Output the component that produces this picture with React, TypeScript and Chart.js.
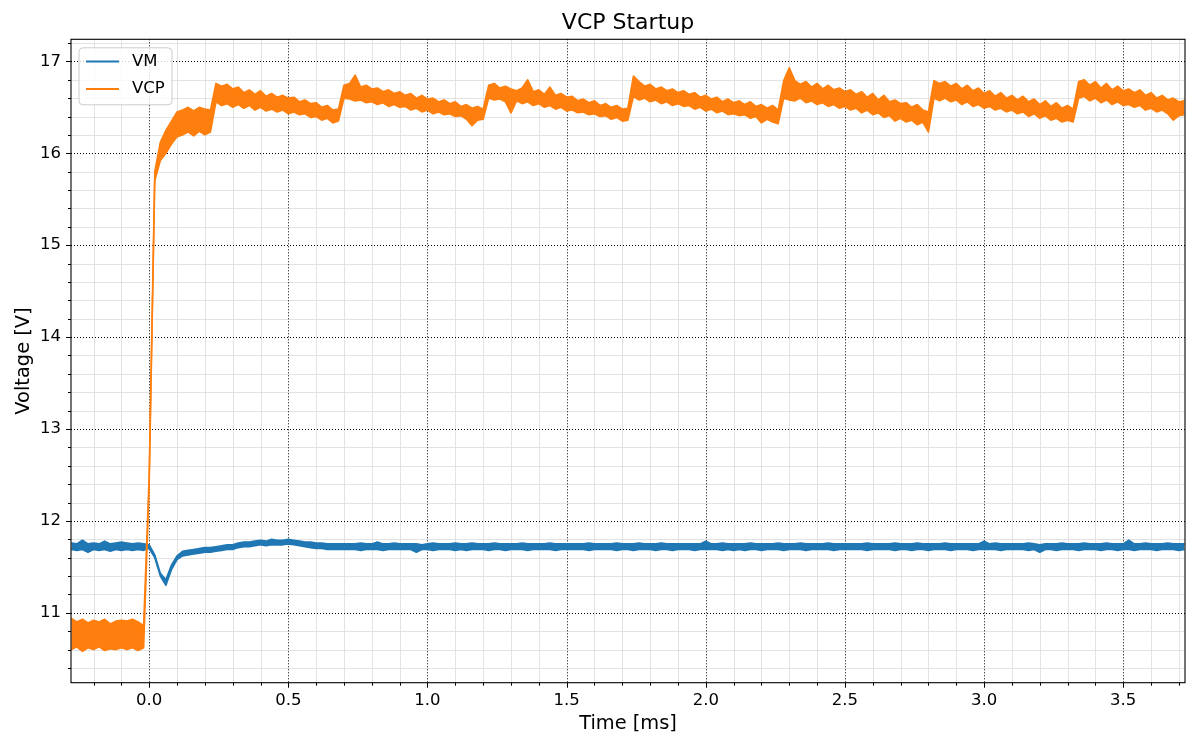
import { useEffect, useRef } from 'react';
import { Chart, registerables } from 'chart.js';

Chart.register(...registerables);

const FONT = 'DejaVu Sans';
const TITLE = 'VCP Startup';
const X_LABEL = 'Time [ms]';
const Y_LABEL = 'Voltage [V]';
const SERIES_NAMES = ['VM', 'VCP'];
const SERIES_COLORS = ['#1f77b4', '#ff7f0e'];

// scope traces as min/max envelopes, one pair every 20 us from -0.28 ms
const T_START = -0.28;
const T_STEP = 0.02;

// one row = 0.2 ms
const vmHigh = [
    11.76, 11.75, 11.79, 11.75, 11.76, 11.75, 11.78, 11.75, 11.76, 11.77,
    11.76, 11.75, 11.76, 11.75, 11.74, 11.63, 11.43, 11.36, 11.52, 11.62,
    11.67, 11.68, 11.69, 11.7, 11.71, 11.71, 11.72, 11.73, 11.74, 11.74,
    11.76, 11.77, 11.77, 11.78, 11.79, 11.78, 11.8, 11.79, 11.79, 11.8,
    11.79, 11.78, 11.77, 11.77, 11.76, 11.76, 11.75, 11.75, 11.75, 11.75,
    11.75, 11.75, 11.76, 11.75, 11.75, 11.77, 11.75, 11.75, 11.76, 11.75,
    11.75, 11.75, 11.75, 11.74, 11.75, 11.76, 11.75, 11.75, 11.75, 11.76,
    11.75, 11.75, 11.76, 11.75, 11.75, 11.75, 11.76, 11.75, 11.75, 11.75,
    11.75, 11.76, 11.75, 11.75, 11.75, 11.75, 11.76, 11.75, 11.75, 11.75,
    11.75, 11.75, 11.75, 11.76, 11.75, 11.75, 11.75, 11.75, 11.76, 11.75,
    11.75, 11.75, 11.76, 11.75, 11.75, 11.75, 11.76, 11.75, 11.75, 11.75,
    11.75, 11.75, 11.75, 11.75, 11.78, 11.75, 11.75, 11.76, 11.75, 11.75,
    11.75, 11.75, 11.76, 11.75, 11.75, 11.75, 11.75, 11.76, 11.75, 11.75,
    11.75, 11.76, 11.75, 11.75, 11.75, 11.75, 11.76, 11.75, 11.75, 11.75,
    11.75, 11.75, 11.75, 11.76, 11.75, 11.75, 11.75, 11.75, 11.76, 11.75,
    11.75, 11.75, 11.76, 11.75, 11.75, 11.75, 11.75, 11.76, 11.75, 11.75,
    11.75, 11.75, 11.75, 11.75, 11.78, 11.75, 11.76, 11.75, 11.75, 11.75,
    11.75, 11.75, 11.76, 11.75, 11.74, 11.75, 11.75, 11.75, 11.76, 11.75,
    11.75, 11.75, 11.76, 11.75, 11.75, 11.75, 11.76, 11.75, 11.75, 11.75,
    11.79, 11.75, 11.75, 11.76, 11.75, 11.75, 11.75, 11.76, 11.75, 11.75,
    11.75,
];

const vmLow = [
    11.69, 11.68, 11.69, 11.66, 11.69, 11.68, 11.69, 11.67, 11.69, 11.68,
    11.69, 11.68, 11.69, 11.68, 11.7, 11.6, 11.4, 11.3, 11.47, 11.58,
    11.62, 11.63, 11.64, 11.65, 11.66, 11.66, 11.67, 11.68, 11.69, 11.69,
    11.71, 11.72, 11.72, 11.73, 11.74, 11.73, 11.74, 11.74, 11.74, 11.75,
    11.74, 11.73, 11.72, 11.71, 11.7, 11.7, 11.69, 11.69, 11.69, 11.69,
    11.69, 11.69, 11.68, 11.69, 11.69, 11.69, 11.68, 11.69, 11.69, 11.69,
    11.69, 11.69, 11.66, 11.69, 11.69, 11.68, 11.69, 11.69, 11.69, 11.68,
    11.69, 11.68, 11.69, 11.69, 11.69, 11.68, 11.69, 11.69, 11.68, 11.69,
    11.69, 11.69, 11.68, 11.69, 11.69, 11.69, 11.69, 11.68, 11.69, 11.69,
    11.69, 11.69, 11.69, 11.68, 11.69, 11.69, 11.69, 11.69, 11.68, 11.69,
    11.69, 11.68, 11.69, 11.69, 11.69, 11.68, 11.69, 11.69, 11.68, 11.69,
    11.69, 11.69, 11.68, 11.69, 11.69, 11.69, 11.69, 11.68, 11.69, 11.68,
    11.69, 11.68, 11.69, 11.69, 11.68, 11.69, 11.69, 11.69, 11.68, 11.69,
    11.69, 11.69, 11.68, 11.69, 11.69, 11.69, 11.69, 11.68, 11.69, 11.69,
    11.69, 11.69, 11.69, 11.68, 11.69, 11.69, 11.69, 11.69, 11.68, 11.69,
    11.69, 11.68, 11.69, 11.69, 11.68, 11.69, 11.69, 11.69, 11.68, 11.69,
    11.69, 11.69, 11.68, 11.69, 11.69, 11.69, 11.69, 11.68, 11.69, 11.69,
    11.69, 11.69, 11.68, 11.69, 11.66, 11.69, 11.69, 11.68, 11.69, 11.69,
    11.69, 11.68, 11.69, 11.69, 11.69, 11.68, 11.69, 11.69, 11.68, 11.69,
    11.69, 11.68, 11.69, 11.69, 11.69, 11.68, 11.69, 11.69, 11.69, 11.68,
    11.69,
];

const vcpHigh = [
    10.94, 10.9, 10.93, 10.89, 10.92, 10.9, 10.93, 10.88, 10.91, 10.92,
    10.91, 10.93, 10.9, 10.86, 12.5, 15.8, 16.12, 16.25, 16.35, 16.45,
    16.47, 16.5, 16.46, 16.5, 16.48, 16.47, 16.76, 16.73, 16.75, 16.7,
    16.72, 16.66, 16.69, 16.64, 16.68, 16.62, 16.65, 16.61, 16.63, 16.6,
    16.61, 16.56, 16.58, 16.54, 16.55, 16.5, 16.52, 16.47, 16.48, 16.74,
    16.76, 16.85, 16.72, 16.74, 16.7, 16.71, 16.67, 16.69, 16.65, 16.67,
    16.63, 16.65, 16.6, 16.63, 16.59, 16.6, 16.56, 16.58, 16.54, 16.56,
    16.51, 16.53, 16.49, 16.51, 16.48, 16.74, 16.76, 16.71, 16.73, 16.7,
    16.68, 16.71, 16.8, 16.67, 16.69, 16.64, 16.72, 16.63, 16.65, 16.61,
    16.62, 16.57, 16.59, 16.55, 16.57, 16.52, 16.54, 16.5, 16.52, 16.48,
    16.49, 16.84, 16.78, 16.73, 16.75, 16.7, 16.72, 16.68, 16.7, 16.66,
    16.68, 16.64, 16.66, 16.61, 16.63, 16.59, 16.61, 16.56, 16.59, 16.55,
    16.57, 16.53, 16.56, 16.51, 16.53, 16.49, 16.52, 16.47, 16.79, 16.93,
    16.79, 16.75, 16.78, 16.72, 16.76, 16.7, 16.74, 16.69, 16.71, 16.67,
    16.69, 16.64, 16.67, 16.61, 16.65, 16.58, 16.63, 16.56, 16.58, 16.54,
    16.55, 16.5, 16.53, 16.47, 16.45, 16.79, 16.76, 16.78, 16.73, 16.76,
    16.7, 16.74, 16.68, 16.71, 16.65, 16.68, 16.62, 16.66, 16.6, 16.63,
    16.58, 16.62, 16.56, 16.59, 16.53, 16.57, 16.51, 16.55, 16.49, 16.52,
    16.48, 16.78, 16.8, 16.74, 16.78, 16.71, 16.76, 16.69, 16.73, 16.68,
    16.7, 16.66, 16.69, 16.63, 16.66, 16.6, 16.63, 16.58, 16.6, 16.56,
    16.57,
];

const vcpLow = [
    10.6, 10.63, 10.58, 10.62, 10.6, 10.63, 10.59, 10.61, 10.6, 10.62,
    10.6, 10.62, 10.59, 10.62, 12.4, 15.7, 15.92, 16.0, 16.1, 16.18,
    16.2, 16.23, 16.19, 16.24, 16.2, 16.23, 16.56, 16.52, 16.54, 16.5,
    16.53, 16.49, 16.52, 16.47, 16.5, 16.46, 16.48, 16.45, 16.47, 16.43,
    16.45, 16.42, 16.43, 16.39, 16.4, 16.36, 16.38, 16.33, 16.35, 16.6,
    16.59, 16.57, 16.58, 16.55, 16.56, 16.53, 16.55, 16.51, 16.53, 16.5,
    16.51, 16.47, 16.49, 16.45, 16.47, 16.43, 16.45, 16.42, 16.43, 16.4,
    16.41, 16.37, 16.3, 16.36, 16.37, 16.6, 16.58, 16.59, 16.56, 16.44,
    16.57, 16.54, 16.56, 16.52, 16.54, 16.5, 16.52, 16.48, 16.5, 16.46,
    16.47, 16.44, 16.45, 16.42, 16.43, 16.4, 16.41, 16.37, 16.39, 16.35,
    16.36, 16.62, 16.58, 16.6, 16.56, 16.58, 16.54, 16.56, 16.52, 16.54,
    16.51, 16.52, 16.48, 16.5, 16.46, 16.48, 16.44, 16.46, 16.42, 16.43,
    16.41, 16.42, 16.38, 16.4, 16.33, 16.37, 16.34, 16.32, 16.6, 16.58,
    16.57, 16.6, 16.55, 16.57, 16.53, 16.55, 16.51, 16.53, 16.49, 16.51,
    16.47, 16.49, 16.44, 16.47, 16.42, 16.44, 16.39, 16.41, 16.35, 16.38,
    16.34, 16.36, 16.31, 16.34, 16.23, 16.6, 16.57, 16.6, 16.56, 16.58,
    16.53, 16.56, 16.51, 16.53, 16.49, 16.51, 16.47, 16.49, 16.45, 16.47,
    16.43, 16.45, 16.4, 16.43, 16.38, 16.41, 16.36, 16.38, 16.34, 16.36,
    16.34, 16.6, 16.62, 16.57, 16.6, 16.55, 16.58, 16.53, 16.56, 16.52,
    16.53, 16.5, 16.52, 16.47, 16.49, 16.45, 16.47, 16.43, 16.36, 16.41,
    16.42,
];

const xTicks = [0, 0.5, 1, 1.5, 2, 2.5, 3, 3.5];
const yTicks = [11, 12, 13, 14, 15, 16, 17];
const X_RANGE = [-0.281, 3.722];
const Y_RANGE = [10.24, 17.24];

// minor grid: 0.1 ms and 0.2 V
const xMinor: number[] = [];
for (let k = -2; k <= 37; k++) if (k % 5 !== 0) xMinor.push(k / 10);
const yMinor: number[] = [];
for (let k = 52; k <= 86; k++) if (k % 5 !== 0) yMinor.push(k / 5);

const toPoints = (values: number[]) =>
    values.map((v, i) => ({ x: +(T_START + i * T_STEP).toFixed(2), y: v }));

const mplLook = {
    id: 'mplLook',
    beforeDatasetsDraw(chart: Chart) {
        const { ctx, chartArea: a, scales } = chart;
        const x = scales.x;
        const y = scales.y;
        ctx.save();
        ctx.lineWidth = 0.8;
        ctx.strokeStyle = '#dcdcdc';
        ctx.beginPath();
        xMinor.forEach((v) => {
            const p = Math.round(x.getPixelForValue(v)) + 0.5;
            ctx.moveTo(p, a.top);
            ctx.lineTo(p, a.bottom);
        });
        yMinor.forEach((v) => {
            const p = Math.round(y.getPixelForValue(v)) + 0.5;
            ctx.moveTo(a.left, p);
            ctx.lineTo(a.right, p);
        });
        ctx.stroke();

        ctx.strokeStyle = '#000';
        ctx.lineWidth = 1;
        ctx.setLineDash([1, 2]);
        ctx.beginPath();
        xTicks.forEach((v) => {
            const p = Math.round(x.getPixelForValue(v)) + 0.5;
            ctx.moveTo(p, a.top);
            ctx.lineTo(p, a.bottom);
        });
        yTicks.forEach((v) => {
            const p = Math.round(y.getPixelForValue(v)) + 0.5;
            ctx.moveTo(a.left, p);
            ctx.lineTo(a.right, p);
        });
        ctx.stroke();
        ctx.restore();
    },
    afterDraw(chart: Chart) {
        const { ctx, chartArea: a, scales } = chart;
        const x = scales.x;
        const y = scales.y;
        ctx.save();

        // spines
        ctx.strokeStyle = '#000';
        ctx.lineWidth = 1.1;
        ctx.strokeRect(a.left, a.top, a.right - a.left, a.bottom - a.top);

        // tick marks, outward
        ctx.lineWidth = 1;
        ctx.beginPath();
        const tickX = (v: number, len: number) => {
            const p = Math.round(x.getPixelForValue(v)) + 0.5;
            ctx.moveTo(p, a.bottom);
            ctx.lineTo(p, a.bottom + len);
        };
        const tickY = (v: number, len: number) => {
            const p = Math.round(y.getPixelForValue(v)) + 0.5;
            ctx.moveTo(a.left, p);
            ctx.lineTo(a.left - len, p);
        };
        xTicks.forEach((v) => tickX(v, 5));
        xMinor.forEach((v) => tickX(v, 3));
        yTicks.forEach((v) => tickY(v, 5));
        yMinor.forEach((v) => tickY(v, 3));
        ctx.stroke();

        // title
        ctx.fillStyle = '#000';
        ctx.font = `22px "${FONT}"`;
        ctx.textAlign = 'center';
        ctx.textBaseline = 'middle';
        ctx.fillText(TITLE, (a.left + a.right) / 2, 23);

        // legend box, upper left
        const bx = a.left + 8;
        const by = a.top + 8.5;
        ctx.beginPath();
        ctx.roundRect(bx, by, 93, 57, 4);
        ctx.fillStyle = 'rgba(255,255,255,0.8)';
        ctx.fill();
        ctx.strokeStyle = '#cccccc';
        ctx.lineWidth = 1;
        ctx.stroke();

        ctx.font = `16.5px "${FONT}"`;
        ctx.textAlign = 'left';
        SERIES_NAMES.forEach((name, i) => {
            const ly = by + 13.8 + i * 27.4;
            ctx.strokeStyle = SERIES_COLORS[i];
            ctx.lineWidth = 2;
            ctx.beginPath();
            ctx.moveTo(bx + 7, ly);
            ctx.lineTo(bx + 40, ly);
            ctx.stroke();
            ctx.fillStyle = '#000';
            ctx.fillText(name, bx + 53, ly);
        });
        ctx.restore();
    },
};

export default function App() {
    const canvasRef = useRef<HTMLCanvasElement | null>(null);

    useEffect(() => {
        if (!canvasRef.current) {
            return;
        }
        document.body.style.margin = '0';
        Chart.defaults.font.family = FONT;

        const band = (name: string, color: string, values: number[], order: number, fill: false | string) => ({
            label: name,
            data: toPoints(values),
            borderColor: color,
            backgroundColor: color,
            borderWidth: 1.6,
            fill,
            order,
        });

        const chart = new Chart(canvasRef.current, {
            type: 'line',
            data: {
                datasets: [
                    band(SERIES_NAMES[0], SERIES_COLORS[0], vmLow, 1, false),
                    band(SERIES_NAMES[0], SERIES_COLORS[0], vmHigh, 1, '-1'),
                    band(SERIES_NAMES[1], SERIES_COLORS[1], vcpLow, 0, false),
                    band(SERIES_NAMES[1], SERIES_COLORS[1], vcpHigh, 0, '-1'),
                ],
            },
            options: {
                animation: false,
                responsive: false,
                devicePixelRatio: 1,
                layout: { padding: { top: 39.3, right: 15, left: 0, bottom: 0 } },
                elements: {
                    point: { radius: 0, hoverRadius: 0 },
                    line: { tension: 0, borderJoinStyle: 'round' },
                },
                plugins: {
                    legend: { display: false },
                    tooltip: { enabled: false },
                },
                scales: {
                    x: {
                        type: 'linear',
                        min: X_RANGE[0],
                        max: X_RANGE[1],
                        afterBuildTicks: (scale) => {
                            scale.ticks = xTicks.map((value) => ({ value }));
                        },
                        afterFit: (scale) => {
                            scale.height = 67.3;
                        },
                        grid: { display: false, drawTicks: false },
                        border: { display: false },
                        ticks: {
                            autoSkip: false,
                            maxRotation: 0,
                            padding: 8,
                            color: '#000',
                            font: { size: 16.5 },
                            callback: (v) => Number(v).toFixed(1),
                        },
                        title: {
                            display: true,
                            text: X_LABEL,
                            color: '#000',
                            font: { size: 19.4 },
                            padding: { top: 0, bottom: 14.4 },
                        },
                    },
                    y: {
                        type: 'linear',
                        min: Y_RANGE[0],
                        max: Y_RANGE[1],
                        afterBuildTicks: (scale) => {
                            scale.ticks = yTicks.map((value) => ({ value }));
                        },
                        afterFit: (scale) => {
                            scale.width = 71;
                        },
                        grid: { display: false, drawTicks: false },
                        border: { display: false },
                        ticks: {
                            autoSkip: false,
                            padding: 10,
                            color: '#000',
                            font: { size: 16.5 },
                            callback: (v) => String(v),
                        },
                        title: {
                            display: true,
                            text: Y_LABEL,
                            color: '#000',
                            font: { size: 19.4 },
                            padding: { top: 12, bottom: 0 },
                        },
                    },
                },
            },
            plugins: [mplLook],
        });

        return () => chart.destroy();
    }, []);

    return (
        <div style={{ width: 1200, height: 750, background: '#fff' }}>
            <canvas ref={canvasRef} width={1200} height={750} style={{ display: 'block' }} />
        </div>
    );
}
